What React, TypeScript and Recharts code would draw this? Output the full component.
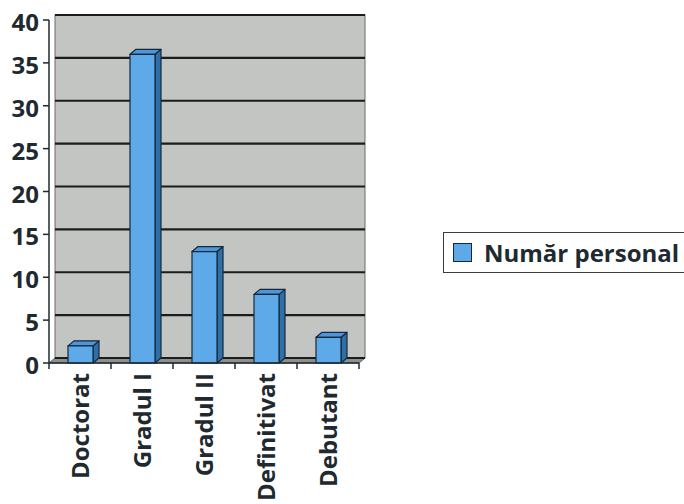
import React from 'react';
import { BarChart, Bar, XAxis, YAxis, CartesianGrid, ReferenceArea, Legend } from 'recharts';

const categories = ['Doctorat', 'Gradul I', 'Gradul II', 'Definitivat', 'Debutant'];
const values = [2, 36, 13, 8, 3];
const yTicks = [0, 5, 10, 15, 20, 25, 30, 35, 40];
const seriesName = 'Număr personal';

const data = categories.map((c, i) => ({ name: c, value: values[i] }));

const DX = 6;
const DY = 5;
const FONT = '"Open Sans", sans-serif';
const INK = '#1e2a30';

const WallShape = (props: any) => {
  const { x, y, width, height } = props;
  const b = y + height;
  return (
    <g>
      <rect x={x + DX} y={y - DY} width={width} height={height} fill="#c3c5c3" stroke="#6a6d6a" strokeWidth={1} />
      <polygon
        points={`${x},${b} ${x + DX},${b - DY} ${x + width + DX},${b - DY} ${x + width},${b}`}
        fill="#8d8f8d"
        stroke="#5a5c5a"
        strokeWidth={1}
      />
    </g>
  );
};

const Bar3D = (props: any) => {
  const { x, y, width, height } = props;
  if (!height || height <= 0) return null;
  const b = y + height;
  return (
    <g stroke="#16283a" strokeWidth={1.2} strokeLinejoin="round">
      <polygon points={`${x + width},${y} ${x + width + DX},${y - DY} ${x + width + DX},${b - DY} ${x + width},${b}`} fill="#2f6fa9" />
      <polygon points={`${x},${y} ${x + DX},${y - DY} ${x + width + DX},${y - DY} ${x + width},${y}`} fill="#4c97dc" />
      <rect x={x} y={y} width={width} height={height} fill="#5eaae8" />
    </g>
  );
};

const GridLine = (p: any) => (
  <line
    key={p.key}
    x1={p.x1 + DX}
    y1={p.y1 - DY}
    x2={p.x2 + DX}
    y2={p.y2 - DY}
    stroke="#1a1d1c"
    strokeWidth={2.2}
  />
);

const XTick = (props: any) => {
  const { x, y, payload, index } = props;
  const half = payload && payload.offset ? payload.offset : 31;
  const axisY = y - 8;
  return (
    <g>
      <line x1={x - half} y1={axisY} x2={x - half} y2={axisY + 6} stroke={INK} strokeWidth={1.5} />
      {index === categories.length - 1 && (
        <line x1={x + half} y1={axisY} x2={x + half} y2={axisY + 6} stroke={INK} strokeWidth={1.5} />
      )}
      <text
        transform={`translate(${x + 9},${axisY + 10}) rotate(-90)`}
        textAnchor="end"
        fontFamily={FONT}
        fontWeight={700}
        fontSize={24}
        fill={INK}
      >
        {payload.value}
      </text>
    </g>
  );
};

const YTick = (props: any) => {
  const { x, y, payload } = props;
  return (
    <text x={x} y={y} dy={11} textAnchor="end" fontFamily={FONT} fontWeight={700} fontSize={24} fill={INK}>
      {payload.value}
    </text>
  );
};

const LegendContent = () => (
  <div
    style={{
      boxSizing: 'border-box',
      width: 241,
      height: 41,
      border: '1.5px solid #3a3d3c',
      borderRight: 'none',
      background: '#fff',
      display: 'flex',
      alignItems: 'center',
      paddingLeft: 9,
    }}
  >
    <span
      style={{
        display: 'inline-block',
        width: 19,
        height: 19,
        boxSizing: 'border-box',
        background: '#5eaae8',
        border: '1.5px solid #16283a',
        marginRight: 12,
        flexShrink: 0,
      }}
    />
    <span style={{ fontFamily: FONT, fontWeight: 700, fontSize: 24, color: INK, lineHeight: '24px', whiteSpace: 'nowrap' }}>
      {seriesName}
    </span>
  </div>
);

export default function App() {
  return (
    <div style={{ position: 'absolute', left: 0, top: 0, width: 684, height: 504, background: '#fff', overflow: 'hidden' }}>
      <BarChart width={684} height={504} data={data} margin={{ top: 20, right: 84, left: 0, bottom: 0 }}>
        <ReferenceArea y1={0} y2={40} ifOverflow="visible" shape={WallShape} zIndex={-200} />
        <CartesianGrid vertical={false} horizontal={GridLine} />
        <XAxis
          dataKey="name"
          height={141}
          interval={0}
          tickLine={false}
          axisLine={{ stroke: INK, strokeWidth: 1.5 }}
          tick={XTick}
          tickSize={6}
          tickMargin={2}
        />
        <YAxis
          width={49}
          domain={[0, 40]}
          ticks={yTicks}
          interval={0}
          tickSize={6}
          tickMargin={4}
          tickLine={{ stroke: INK, strokeWidth: 1.5 }}
          axisLine={{ stroke: INK, strokeWidth: 1.5 }}
          tick={YTick}
        />
        <Bar dataKey="value" name={seriesName} barSize={25} shape={Bar3D} isAnimationActive={false} />
        <Legend
          layout="vertical"
          align="right"
          verticalAlign="middle"
          content={LegendContent}
          wrapperStyle={{ position: 'absolute', left: 443, top: 232, width: 241, height: 41 }}
        />
      </BarChart>
    </div>
  );
}
